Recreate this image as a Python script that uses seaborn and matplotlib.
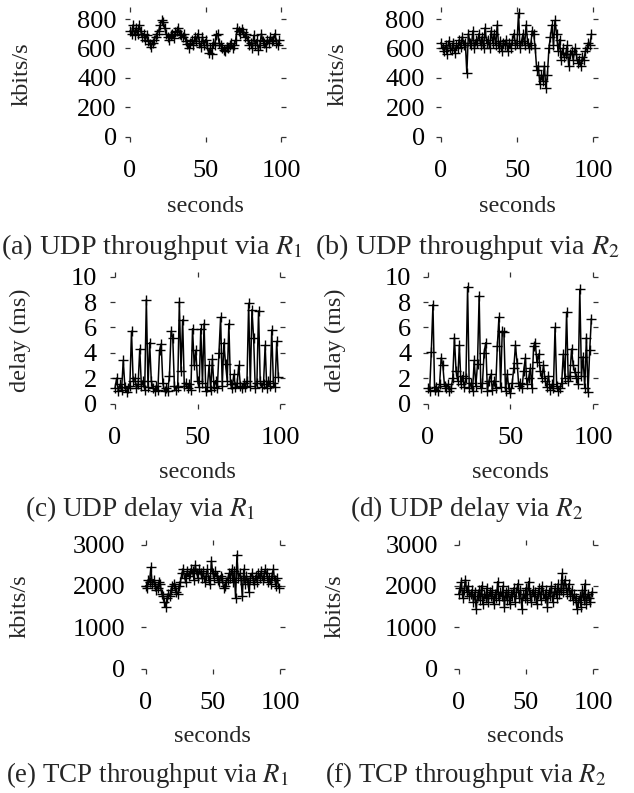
import numpy as np
import pandas as pd
import seaborn as sns
import matplotlib.pyplot as plt

sns.set_theme(style='white')
plt.rcParams['font.family'] = ['Liberation Serif', 'DejaVu Serif']
plt.rcParams['mathtext.fontset'] = 'stix'

seconds = list(range(100))

udp_tput_r1 = [720, 700, 760, 690, 740, 700, 760, 720, 680, 700,
               660, 690, 650, 630, 610, 640, 660, 680, 700, 720,
               760, 790, 780, 740, 700, 680, 660, 690, 700, 670,
               710, 720, 740, 700, 690, 680, 700, 650, 630, 600,
               640, 660, 620, 680, 650, 700, 640, 610, 680, 620,
               660, 620, 570, 600, 560, 640, 620, 690, 700, 640,
               620, 600, 590, 580, 610, 600, 620, 640, 600, 620,
               660, 740, 720, 700, 730, 710, 680, 700, 660, 620,
               640, 600, 690, 620, 660, 590, 620, 700, 650, 640,
               610, 660, 640, 680, 650, 660, 700, 640, 620, 660]

udp_tput_r2 = [640, 600, 580, 620, 560, 650, 600, 590, 640, 570,
               620, 600, 660, 610, 680, 620, 640, 430, 700, 640,
               620, 720, 600, 660, 640, 700, 620, 680, 600, 740,
               640, 660, 600, 720, 640, 700, 620, 760, 600, 650,
               580, 640, 620, 660, 580, 640, 600, 660, 700, 620,
               640, 840, 600, 650, 700, 620, 760, 640, 600, 620,
               720, 700, 600, 450, 480, 360, 420, 380, 480, 330,
               420, 600, 680, 760, 620, 790, 700, 580, 660, 520,
               600, 540, 560, 620, 480, 560, 580, 520, 600, 560,
               500, 520, 480, 540, 520, 580, 600, 640, 620, 700]

udp_delay_r1 = [1.2, 2.0, 1.0, 1.5, 1.1, 3.4, 1.3, 0.9, 1.2, 1.4,
                5.7, 1.8, 2.0, 1.2, 1.5, 4.3, 1.4, 1.8, 1.1, 8.2,
                1.3, 4.8, 1.8, 1.2, 1.0, 1.4, 1.1, 4.2, 4.7, 1.6,
                1.0, 1.2, 1.0, 2.2, 5.7, 5.2, 1.4, 1.1, 1.3, 8.0,
                2.6, 6.6, 1.4, 1.6, 1.2, 1.5, 1.1, 5.9, 3.0, 4.2,
                1.8, 1.3, 5.9, 1.6, 6.3, 1.0, 1.3, 3.0, 1.1, 3.5,
                1.3, 1.8, 1.2, 4.0, 6.8, 1.4, 4.8, 3.1, 1.8, 6.3,
                1.5, 1.2, 2.3, 1.3, 1.6, 3.0, 1.4, 1.2, 1.6, 1.3,
                1.8, 7.9, 1.4, 7.4, 5.2, 1.2, 1.6, 7.3, 1.8, 1.3,
                1.5, 4.6, 1.2, 1.8, 1.4, 5.8, 1.6, 1.3, 4.9, 2.1]

udp_delay_r2 = [1.2, 1.0, 4.1, 7.8, 1.1, 1.3, 1.0, 1.5, 3.6, 3.0,
                1.4, 1.2, 1.5, 1.0, 1.2, 2.0, 5.2, 2.6, 1.8, 4.6,
                1.5, 2.2, 1.3, 2.0, 9.2, 1.2, 1.6, 1.0, 3.4, 1.4,
                3.1, 8.5, 1.2, 1.6, 4.0, 4.8, 1.0, 1.8, 2.3, 1.1,
                1.8, 1.2, 4.5, 6.8, 1.3, 5.7, 5.6, 1.0, 2.3, 1.2,
                0.8, 1.6, 2.8, 4.6, 3.2, 1.4, 1.6, 1.2, 2.6, 3.6,
                1.5, 2.0, 2.8, 1.2, 4.5, 4.8, 3.3, 3.9, 2.6, 2.0,
                3.0, 1.8, 1.3, 2.2, 1.1, 1.5, 1.2, 6.0, 1.4, 1.0,
                1.2, 1.6, 3.9, 2.0, 7.2, 1.8, 2.2, 4.3, 3.0, 2.5,
                2.0, 1.5, 9.0, 2.2, 3.7, 1.2, 5.2, 0.9, 4.2, 6.7]

tcp_tput_r1 = [2000, 1950, 2150, 2100, 2450, 2050, 2150, 2000, 1900, 1950,
               2100, 2050, 1800, 1750, 1600, 1500, 1700, 1800, 1750, 1900,
               2000, 2050, 1950, 1850, 1800, 2000, 2100, 2300, 2400, 2200,
               2100, 2350, 2250, 2300, 2400, 2350, 2150, 2500, 2300, 2200,
               2400, 2300, 2200, 2350, 2100, 2250, 2400, 2150, 2050, 2600,
               2300, 2200, 2350, 2250, 2150, 2100, 2250, 2200, 1950, 2000,
               2100, 2150, 2300, 2200, 2400, 2100, 2350, 1700, 2750, 2200,
               2300, 2150, 1750, 2400, 2050, 2250, 2100, 1850, 2200, 2300,
               2150, 2050, 2250, 2100, 2300, 2200, 2350, 2150, 2250, 2400,
               2300, 2100, 2200, 2050, 2250, 2400, 2150, 2000, 2200, 1950]

tcp_tput_r2 = [1800, 1950, 2100, 1700, 1900, 2150, 1850, 2000, 1750, 1800,
               1900, 1600, 1850, 1450, 1750, 1900, 1650, 2000, 1550, 1800,
               1700, 1950, 1600, 1850, 1750, 1900, 1550, 1800, 1700, 2100,
               1650, 1850, 1750, 2000, 1500, 1850, 1650, 1900, 1550, 1800,
               1750, 1950, 1600, 1850, 2050, 1700, 1900, 1450, 1800, 1700,
               1950, 1650, 2100, 1800, 1600, 1900, 1750, 1850, 1550, 1800,
               1950, 1650, 2000, 1800, 1700, 1900, 1500, 1850, 1750, 2000,
               1600, 1850, 1950, 1700, 2050, 1800, 1900, 2300, 1850, 2150,
               1950, 1800, 2050, 1750, 1900, 1650, 1800, 1700, 1450, 1600,
               1750, 1500, 1900, 1650, 2050, 1550, 1800, 1700, 1600, 1850]

xticks = [0, 50, 100]
tput_udp_ticks = [0, 200, 400, 600, 800]
delay_ticks = [0, 2, 4, 6, 8, 10]
tput_tcp_ticks = [0, 1000, 2000, 3000]

captions = ['(a) UDP throughput via $R_1$', '(b) UDP throughput via $R_2$',
            '(c) UDP delay via $R_1$', '(d) UDP delay via $R_2$',
            '(e) TCP throughput via $R_1$', '(f) TCP throughput via $R_2$']
ylabels = ['kbits/s', 'kbits/s', 'delay (ms)', 'delay (ms)', 'kbits/s', 'kbits/s']

W, H = 634, 793
fig = plt.figure(figsize=(W / 100, H / 100), dpi=100)

# layout in pixels: x of 0, x of 100, y of 0, y of top tick, top border,
# ylabel x, caption x, caption y, xlabel y, y tick label pad (pt), caption size
layout = [
    (130, 281, 136.5, 19, 7, 22, 152, 247, 207, 6.0, 20.3),
    (441, 593, 136.5, 19, 7, 338, 467, 247, 207, 8.0, 20.3),
    (115, 280, 403.5, 276.7, 271.7, 20, 140, 509, 473, 9.5, 19.6),
    (428, 593, 403.5, 276.7, 271.7, 335, 467, 509, 473, 8.5, 19.6),
    (145.5, 280, 668.5, 544.5, 539.5, 20, 147, 775, 737, 11.0, 19.4),
    (458.7, 593, 668.5, 544.5, 539.5, 335, 466, 775, 737, 11.5, 19.4),
]
series = [udp_tput_r1, udp_tput_r2, udp_delay_r1, udp_delay_r2, tcp_tput_r1, tcp_tput_r2]
yticks_all = [tput_udp_ticks, tput_udp_ticks, delay_ticks, delay_ticks, tput_tcp_ticks, tput_tcp_ticks]

pad = 5
TFS = 19
LFS = 17.5
for i in range(6):
    x0, x100, y0, ytp, topp, ylx, capx, capy, xly, ypad, cfs = layout[i]
    yt = yticks_all[i][-1]
    ux = 100 / (x100 - x0)
    uy = yt / (y0 - ytp)
    ax = fig.add_axes([(x0 - pad) / W, 1 - (y0 + pad) / H,
                       (x100 - x0 + 2 * pad) / W, (y0 + pad - topp) / H])
    df = pd.DataFrame({'t': seconds, 'v': series[i]})
    sns.lineplot(data=df, x='t', y='v', ax=ax, color='black', linewidth=1.1,
                 marker='+', markersize=7, markeredgewidth=1.0, markeredgecolor='black')
    ax.set_xlim(-pad * ux, 100 + pad * ux)
    ax.set_ylim(-pad * uy, yt + (ytp - topp) * uy)
    ax.set_xticks(xticks)
    ax.set_yticks(yticks_all[i])
    for s in ax.spines.values():
        s.set_visible(False)
    ax.tick_params(direction='in', length=3.6, width=0.9, color='#333333',
                   top=True, right=True, bottom=True, left=True,
                   labelsize=TFS, labelcolor='black')
    ax.tick_params(axis='x', pad=13.5)
    ax.tick_params(axis='y', pad=ypad)
    ax.set_xlabel('')
    ax.set_ylabel('')
    fig.text(ylx / W, 1 - (topp + y0 + pad) / 2 / H, ylabels[i], rotation=90,
             ha='center', va='center', fontsize=LFS)
    fig.text(((x0 + x100) / 2) / W, 1 - xly / H, 'seconds', ha='center', va='center', fontsize=LFS)
    fig.text(capx / W, 1 - capy / H, captions[i], ha='center', va='center', fontsize=cfs)

fig.savefig('out.png', dpi=100)
